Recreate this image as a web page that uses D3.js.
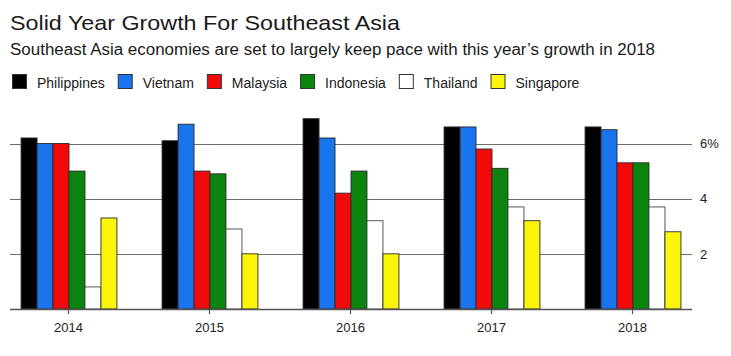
<!DOCTYPE html>
<html>
<head>
<meta charset="utf-8">
<script src="https://cdn.jsdelivr.net/npm/d3@7"></script>
<style>
  html, body { margin: 0; padding: 0; background: #fff; }
  svg { display: block; font-family: "Liberation Sans", Arial, sans-serif; }
</style>
</head>
<body>
<svg id="chart" width="731" height="356"></svg>
<script>
const years = ["2014", "2015", "2016", "2017", "2018"];
const countries = ["Philippines", "Vietnam", "Malaysia", "Indonesia", "Thailand", "Singapore"];
const colors = ["#000000", "#1874ef", "#f20a0a", "#0b830f", "#ffffff", "#fbf50a"];
const philippines = [6.2, 6.1, 6.9, 6.6, 6.6];
const vietnam     = [6.0, 6.7, 6.2, 6.6, 6.5];
const malaysia    = [6.0, 5.0, 4.2, 5.8, 5.3];
const indonesia   = [5.0, 4.9, 5.0, 5.1, 5.3];
const thailand    = [0.8, 2.9, 3.2, 3.7, 3.7];
const singapore   = [3.3, 2.0, 2.0, 3.2, 2.8];
const yTicks = [2, 4, 6];
const yTickLabels = ["2", "4", "6%"];
const title = "Solid Year Growth For Southeast Asia";
const subtitle = "Southeast Asia economies are set to largely keep pace with this year\u2019s growth in 2018";

const series = [philippines, vietnam, malaysia, indonesia, thailand, singapore];
const svg = d3.select("#chart");

// Title & subtitle
svg.append("text").attr("x", 10).attr("y", 30)
  .attr("font-size", 21).attr("fill", "#1a1a1a").text(title)
  .attr("textLength", 390).attr("lengthAdjust", "spacingAndGlyphs");
svg.append("text").attr("x", 10).attr("y", 54.5)
  .attr("font-size", 16).attr("fill", "#1a1a1a").text(subtitle)
  .attr("textLength", 645).attr("lengthAdjust", "spacingAndGlyphs");

// Legend
let lx = 12;
const legend = svg.append("g");
countries.forEach((c, i) => {
  legend.append("rect").attr("x", lx + 0.5).attr("y", 74.5).attr("width", 14).attr("height", 14)
    .attr("fill", colors[i]).attr("stroke", "#333").attr("stroke-width", 1);
  const t = legend.append("text").attr("x", lx + 25).attr("y", 87.5)
    .attr("font-size", 14).attr("fill", "#222").text(c);
  lx = lx + 25 + t.node().getComputedTextLength() + 13;
});

// Scales
const x0 = d3.scaleBand().domain(years).range([-2, 703]).paddingInner(0.32).paddingOuter(0.16);
const x1 = d3.scaleBand().domain(countries).range([0, x0.bandwidth()]);
const y = d3.scaleLinear().domain([0, 6]).range([309, 143.5]);

const gridLeft = 10, gridRight = 692;

// Gridlines
svg.append("g").selectAll("line").data(yTicks).join("line")
  .attr("x1", gridLeft).attr("x2", gridRight)
  .attr("y1", d => Math.round(y(d)) + 0.5).attr("y2", d => Math.round(y(d)) + 0.5)
  .attr("stroke", "#6e6e6e").attr("stroke-width", 1.2);

// Right axis labels
const yAxis = d3.axisRight(y).tickValues(yTicks).tickSize(0).tickPadding(0)
  .tickFormat((d, i) => yTickLabels[i]);
const ya = svg.append("g").attr("transform", `translate(700,0)`).call(yAxis);
ya.select(".domain").remove();
ya.selectAll("text").attr("font-size", 13).attr("fill", "#222")
  .attr("font-family", "Liberation Sans, Arial, sans-serif");

// Bars
const groups = svg.append("g").selectAll("g").data(years).join("g")
  .attr("transform", d => `translate(${x0(d)},0)`);
groups.selectAll("rect")
  .data((yr, yi) => countries.map((c, ci) => ({ c, ci, v: series[ci][yi] })))
  .join("rect")
  .attr("x", d => x1(d.c) + 0.5)
  .attr("width", x1.bandwidth())
  .attr("y", d => y(d.v))
  .attr("height", d => y(0) - y(d.v))
  .attr("fill", d => colors[d.ci])
  .attr("stroke", d => d.ci === 4 ? "#444" : "#2a2a2a")
  .attr("stroke-width", 0.9);

// Bottom axis
const xAxis = d3.axisBottom(x0).tickSize(5).tickPadding(9).tickSizeOuter(0);
const xa = svg.append("g").attr("transform", `translate(0,${y(0)})`).call(xAxis);
xa.select(".domain").attr("d", `M${gridLeft},0.5H${gridRight}`).attr("stroke", "#555").attr("stroke-width", 1.3);
xa.selectAll(".tick line").attr("stroke", "#555").attr("stroke-width", 1.2);
xa.selectAll("text").attr("font-size", 13).attr("fill", "#222")
  .attr("font-family", "Liberation Sans, Arial, sans-serif");
</script>
</body>
</html>
